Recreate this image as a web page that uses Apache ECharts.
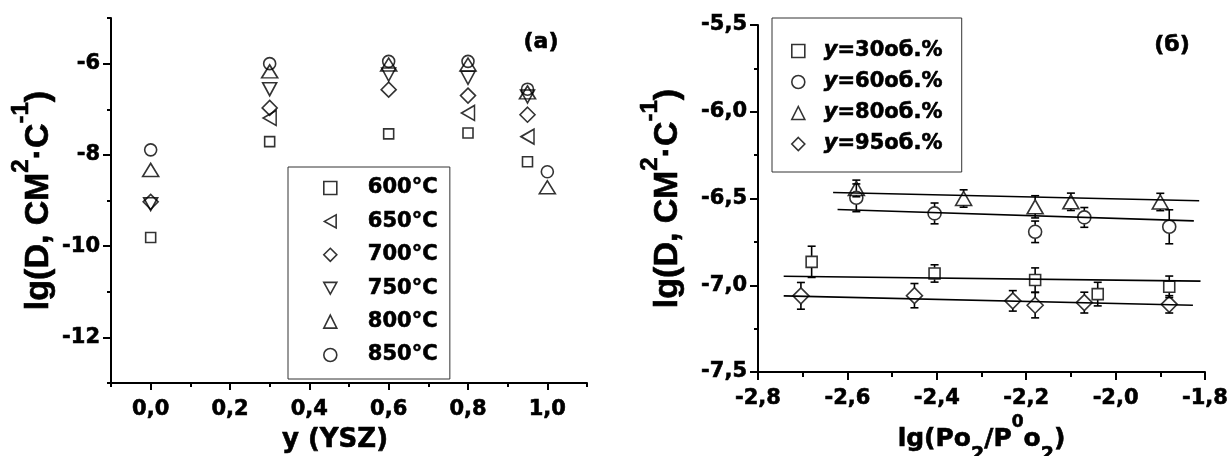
<!DOCTYPE html>
<html>
<head>
<meta charset="utf-8">
<script src="https://cdn.jsdelivr.net/npm/echarts@6/dist/echarts.min.js"></script>
<style>
  html, body { margin: 0; padding: 0; background: #fff; }
  #chart { width: 1232px; height: 456px; }
</style>
</head>
<body>
<div id="chart"></div>
<script>
// ---- Panel (а): lg D against YSZ fraction, one series per temperature ----
const yszFraction = [0.0, 0.3, 0.6, 0.8, 0.95, 1.0];
const temperatures = ['600°C', '650°C', '700°C', '750°C', '800°C', '850°C'];
const lgD_600 = [-9.81, -7.71, -7.54, -7.52, -8.15, null];
const lgD_650 = [null, -7.19, null, -7.08, -7.60, null];
const lgD_700 = [-9.03, -6.97, -6.57, -6.70, -7.12, null];
const lgD_750 = [-9.08, -6.56, -6.24, -6.31, -6.72, null];
const lgD_800 = [-8.33, -6.17, -6.02, -6.02, -6.63, -8.71];
const lgD_850 = [-7.89, -6.00, -5.95, -5.95, -6.56, -8.37];
const yTicksA = [-12, -10, -8, -6];
const xTicksA = [0.0, 0.2, 0.4, 0.6, 0.8, 1.0];

// ---- Panel (б): lg D against lg(pO2/p0O2), with error bars and linear fits ----
const compositions = ['y=30об.%', 'y=60об.%', 'y=80об.%', 'y=95об.%'];
const pO2_30 = [-2.68, -2.405, -2.18, -2.04, -1.88];
const lgD_30 = [-6.865, -6.932, -6.970, -7.051, -7.009];
const err_30 = [0.09, 0.05, 0.07, 0.068, 0.062];
const pO2_60 = [-2.58, -2.405, -2.18, -2.07, -1.88];
const lgD_60 = [-6.496, -6.586, -6.692, -6.609, -6.663];
const err_60 = [0.08, 0.06, 0.062, 0.057, 0.098];
const pO2_80 = [-2.58, -2.34, -2.18, -2.10, -1.90];
const lgD_80 = [-6.442, -6.500, -6.548, -6.519, -6.520];
const err_80 = [0.048, 0.05, 0.064, 0.05, 0.05];
const pO2_95 = [-2.704, -2.45, -2.23, -2.18, -2.07, -1.88];
const lgD_95 = [-7.061, -7.060, -7.090, -7.115, -7.100, -7.110];
const err_95 = [0.077, 0.07, 0.059, 0.073, 0.06, 0.05];
const fit_30 = [[-2.7425, -6.948], [-1.810, -6.976]];
const fit_60 = [[-2.622, -6.563], [-1.825, -6.629]];
const fit_80 = [[-2.632, -6.465], [-1.813, -6.513]];
const fit_95 = [[-2.7425, -7.061], [-1.827, -7.115]];

const FONT = 'DejaVu Sans';
const TITLE_FONT = 'Liberation Sans';
const INK = '#000';

const LEFT_TRI = 'path://M0,5L9,0L9,10Z';
const DOWN_TRI = 'path://M0,0L10,0L5,9Z';

const symbolsA = [
  { symbol: 'rect', size: [10, 10] },
  { symbol: LEFT_TRI, size: [13, 15] },
  { symbol: 'diamond', size: [15, 15] },
  { symbol: DOWN_TRI, size: [14, 13] },
  { symbol: 'triangle', size: [16, 13] },
  { symbol: 'circle', size: [12, 12] }
];
const symbolsB = [
  { symbol: 'rect', size: [11, 11], gap: 6 },
  { symbol: 'circle', size: [13, 13], gap: 7 },
  { symbol: 'triangle', size: [16, 14], gap: 7 },
  { symbol: 'diamond', size: [16, 16], gap: 8 }
];

const hollow = { color: 'rgba(0,0,0,0)', borderColor: INK, borderWidth: 1.6 };
const commaFixed = v => v.toFixed(1).replace('.', ',');

// Heavy bold text: a thin outline in the text colour thickens the strokes
const heavy = { textBorderColor: INK, textBorderWidth: 0.6 };
const tickFont = { fontFamily: FONT, fontWeight: 'bold', fontSize: 21, color: INK, ...heavy };
const lineStyle2 = { color: INK, width: 2 };

// Rotated title with superscripts
const yTitleRich = {
  m: { fontFamily: TITLE_FONT, fontWeight: 'bold', fontSize: 34, lineHeight: 60, color: INK, verticalAlign: 'middle', ...heavy },
  s: { fontFamily: TITLE_FONT, fontWeight: 'bold', fontSize: 24, lineHeight: 24, color: INK, verticalAlign: 'top', ...heavy }
};
const yTitle = '{m|lg(D, СМ}{s|2}{m|·С}{s|-1}{m|)}';

// ---- series for panel (а) ----
const tableA = [lgD_600, lgD_650, lgD_700, lgD_750, lgD_800, lgD_850];
const seriesA = tableA.map((vals, i) => ({
  type: 'scatter',
  name: temperatures[i],
  xAxisIndex: 0, yAxisIndex: 0,
  symbol: symbolsA[i].symbol,
  symbolSize: symbolsA[i].size,
  itemStyle: hollow,
  z: 4,
  data: yszFraction.map((x, j) => vals[j] == null ? null : [x, vals[j]]).filter(Boolean)
}));

// ---- series for panel (б) ----
function errorBars(xs, ys, errs, gap) {
  return {
    type: 'custom',
    xAxisIndex: 2, yAxisIndex: 2,
    silent: true, z: 3,
    encode: { x: 0, y: [1, 2, 3] },
    data: xs.map((x, i) => [x, ys[i], ys[i] - errs[i], ys[i] + errs[i]]),
    renderItem(params, api) {
      const c = api.coord([api.value(0), api.value(1)]);
      const lo = api.coord([api.value(0), api.value(2)]);
      const hi = api.coord([api.value(0), api.value(3)]);
      const st = { stroke: INK, lineWidth: 1.6, fill: null };
      const kids = [];
      if (c[1] - gap > hi[1]) kids.push({ type: 'line', shape: { x1: c[0], y1: hi[1], x2: c[0], y2: c[1] - gap }, style: st });
      if (c[1] + gap < lo[1]) kids.push({ type: 'line', shape: { x1: c[0], y1: c[1] + gap, x2: c[0], y2: lo[1] }, style: st });
      kids.push({ type: 'line', shape: { x1: c[0] - 4, y1: hi[1], x2: c[0] + 4, y2: hi[1] }, style: st });
      kids.push({ type: 'line', shape: { x1: c[0] - 4, y1: lo[1], x2: c[0] + 4, y2: lo[1] }, style: st });
      return { type: 'group', children: kids };
    }
  };
}

const tableB = [
  [pO2_30, lgD_30, err_30, fit_30],
  [pO2_60, lgD_60, err_60, fit_60],
  [pO2_80, lgD_80, err_80, fit_80],
  [pO2_95, lgD_95, err_95, fit_95]
];
const seriesB = [];
tableB.forEach(([xs, ys, es, fit], i) => {
  seriesB.push({
    type: 'line', xAxisIndex: 2, yAxisIndex: 2, silent: true, z: 2,
    symbol: 'none', lineStyle: { color: INK, width: 1.6 }, data: fit
  });
  seriesB.push(errorBars(xs, ys, es, symbolsB[i].gap));
  seriesB.push({
    type: 'scatter', name: compositions[i], xAxisIndex: 2, yAxisIndex: 2, z: 4,
    symbol: symbolsB[i].symbol, symbolSize: symbolsB[i].size, itemStyle: hollow,
    data: xs.map((x, j) => [x, ys[j]])
  });
});

const chart = echarts.init(document.getElementById('chart'), null, { renderer: 'canvas' });
chart.setOption({
  animation: false,
  backgroundColor: '#fff',
  grid: [
    { left: 111, top: 18, width: 476, height: 365, outerBoundsMode: 'none', containLabel: false },
    { left: 758, top: 25, width: 447, height: 347, outerBoundsMode: 'none', containLabel: false }
  ],
  xAxis: [
    {
      gridIndex: 0, type: 'value', position: 'bottom',
      min: -0.1, max: 1.1, interval: 0.1,
      axisLine: { show: true, onZero: false, lineStyle: lineStyle2 },
      axisTick: { show: true, length: 4, lineStyle: lineStyle2 },
      splitLine: { show: false },
      axisLabel: {
        ...tickFont, margin: 16,
        formatter: v => { const k = Math.round(v * 10); return (k >= 0 && k % 2 === 0) ? commaFixed(k / 10) : ''; }
      },
      name: 'y (YSZ)', nameLocation: 'middle', nameGap: 40,
      nameTextStyle: { fontFamily: FONT, fontWeight: 'bold', fontSize: 26, lineHeight: 30, color: INK, padding: [0, 28, 0, 0], ...heavy }
    },
    {
      gridIndex: 0, type: 'value', position: 'bottom',
      min: -0.1, max: 1.1, interval: 0.1,
      axisLine: { show: false, onZero: false },
      axisTick: { show: true, length: 7, lineStyle: lineStyle2, customValues: xTicksA },
      axisLabel: { show: false },
      splitLine: { show: false }
    },
    {
      gridIndex: 1, type: 'value', position: 'bottom',
      min: -2.8, max: -1.8, interval: 0.2,
      axisLine: { show: true, onZero: false, lineStyle: lineStyle2 },
      axisTick: { show: true, length: 8, lineStyle: lineStyle2 },
      minorTick: { show: true, splitNumber: 2, length: 5, lineStyle: lineStyle2 },
      splitLine: { show: false },
      axisLabel: { ...tickFont, margin: 16, formatter: v => commaFixed(v) },
      name: '{m|lg(Po}{b|2}{m|/P}{t|0}{m|o}{b|2}{m|)}', nameLocation: 'middle', nameGap: 40,
      nameTextStyle: {
        fontFamily: FONT, fontWeight: 'bold', fontSize: 25, color: INK,
        rich: {
          m: { fontFamily: FONT, fontWeight: 'bold', fontSize: 25, lineHeight: 50, color: INK, verticalAlign: 'middle', ...heavy },
          t: { fontFamily: FONT, fontWeight: 'bold', fontSize: 17, lineHeight: 17, color: INK, verticalAlign: 'top', ...heavy },
          b: { fontFamily: FONT, fontWeight: 'bold', fontSize: 19, lineHeight: 19, color: INK, verticalAlign: 'bottom', ...heavy }
        }
      }
    }
  ],
  yAxis: [
    {
      gridIndex: 0, type: 'value', position: 'left',
      min: -13, max: -5, interval: 1,
      axisLine: { show: true, onZero: false, lineStyle: lineStyle2 },
      axisTick: { show: true, length: 4, lineStyle: lineStyle2 },
      splitLine: { show: false },
      axisLabel: { ...tickFont, margin: 11, formatter: v => (Math.round(v) % 2 === 0 ? String(Math.round(v)) : '') },
      name: yTitle, nameLocation: 'middle', nameRotate: 90, nameGap: 42,
      nameTextStyle: { fontFamily: TITLE_FONT, fontWeight: 'bold', fontSize: 34, color: INK, rich: yTitleRich }
    },
    {
      gridIndex: 0, type: 'value', position: 'left',
      min: -13, max: -5, interval: 1,
      axisLine: { show: false, onZero: false },
      axisTick: { show: true, length: 8, lineStyle: lineStyle2, customValues: yTicksA },
      axisLabel: { show: false },
      splitLine: { show: false }
    },
    {
      gridIndex: 1, type: 'value', position: 'left',
      min: -7.5, max: -5.5, interval: 0.5,
      axisLine: { show: true, onZero: false, lineStyle: lineStyle2 },
      axisTick: { show: true, length: 8, lineStyle: lineStyle2 },
      minorTick: { show: true, splitNumber: 2, length: 4, lineStyle: lineStyle2 },
      splitLine: { show: false },
      axisLabel: { ...tickFont, margin: 11, formatter: v => commaFixed(v) },
      name: yTitle, nameLocation: 'middle', nameRotate: 90, nameGap: 60,
      nameTextStyle: { fontFamily: TITLE_FONT, fontWeight: 'bold', fontSize: 34, color: INK, rich: yTitleRich }
    }
  ],
  legend: [
    {
      data: temperatures.map((n, i) => ({ name: n, icon: symbolsA[i].symbol })),
      orient: 'vertical', left: 288, top: 167,
      padding: [9, 12, 12, 35],
      itemWidth: 13, itemHeight: 13, itemGap: 9.4,
      borderColor: '#333', borderWidth: 1,
      selectedMode: false,
      itemStyle: { color: 'rgba(0,0,0,0)', borderColor: INK, borderWidth: 1.6 },
      textStyle: { fontFamily: FONT, fontWeight: 'bold', fontSize: 21, lineHeight: 24, color: INK, padding: [0, 0, 0, 26], ...heavy }
    },
    {
      data: compositions.map((n, i) => ({ name: n, icon: symbolsB[i].symbol })),
      orient: 'vertical', left: 772, top: 18,
      padding: [21, 19, 16, 19],
      itemWidth: 13, itemHeight: 13, itemGap: 7,
      borderColor: '#333', borderWidth: 1,
      selectedMode: false,
      itemStyle: { color: 'rgba(0,0,0,0)', borderColor: INK, borderWidth: 1.6 },
      formatter: name => '{i|' + name.slice(0, 1) + '}{n|' + name.slice(1) + '}',
      textStyle: {
        fontFamily: FONT, fontWeight: 'bold', fontSize: 21, lineHeight: 24, color: INK, padding: [0, 0, 0, 14],
        rich: {
          i: { fontFamily: FONT, fontWeight: 'bold', fontStyle: 'italic', fontSize: 21, lineHeight: 24, color: INK, ...heavy },
          n: { fontFamily: FONT, fontWeight: 'bold', fontSize: 21, lineHeight: 24, color: INK, ...heavy }
        }
      }
    }
  ],
  graphic: [
    { type: 'text', x: 541, y: 42, style: { text: '(а)', font: 'bold 22px "DejaVu Sans"', fill: INK, stroke: INK, lineWidth: 0.6, align: 'center', verticalAlign: 'middle', textAlign: 'center', textVerticalAlign: 'middle' } },
    { type: 'text', x: 1172, y: 45, style: { text: '(б)', font: 'bold 22px "DejaVu Sans"', fill: INK, stroke: INK, lineWidth: 0.6, align: 'center', verticalAlign: 'middle', textAlign: 'center', textVerticalAlign: 'middle' } }
  ],
  series: [...seriesA, ...seriesB]
});
</script>
</body>
</html>
